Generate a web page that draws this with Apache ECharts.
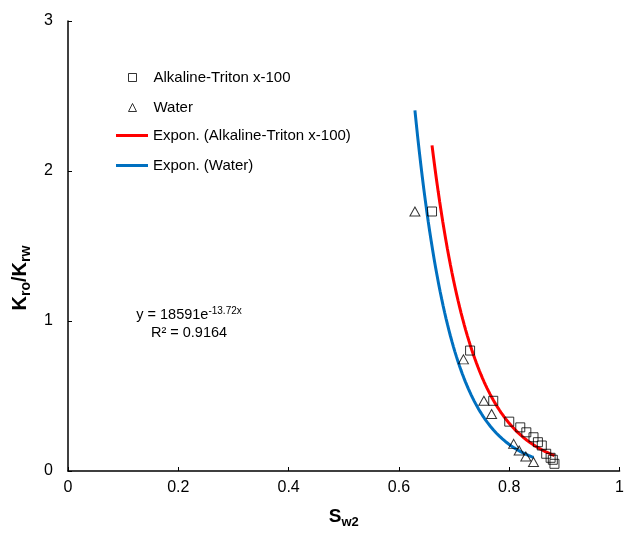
<!DOCTYPE html>
<html>
<head>
<meta charset="utf-8">
<script src="https://cdn.jsdelivr.net/npm/echarts@6/dist/echarts.min.js"></script>
<style>html,body{margin:0;padding:0;background:#fff;overflow:hidden}#c{width:627px;height:534px}</style>
</head>
<body>
<div id="c"></div>
<script>
// ---- data ----
const swAlkaline = [0.660, 0.729, 0.771, 0.800, 0.820, 0.831, 0.844, 0.852, 0.859, 0.867, 0.875, 0.879, 0.882];
const krAlkaline = [1.73, 0.803, 0.468, 0.329, 0.291, 0.258, 0.225, 0.192, 0.170, 0.115, 0.088, 0.075, 0.048];
const swWater = [0.629, 0.717, 0.754, 0.768, 0.808, 0.818, 0.830, 0.844];
const krWater = [1.73, 0.744, 0.468, 0.380, 0.181, 0.137, 0.097, 0.060];
// printed trendline equation (Alkaline-Triton x-100)
const alkalineTrendA = 18591;
const alkalineTrendB = -13.72;
const xTicks = [0, 0.2, 0.4, 0.6, 0.8, 1];
const yTicks = [0, 1, 2, 3];
const seriesNames = ['Alkaline-Triton x-100', 'Water', 'Expon. (Alkaline-Triton x-100)', 'Expon. (Water)'];

function expFit(xs, ys) {
  const n = xs.length;
  const ly = ys.map(Math.log);
  const mx = xs.reduce((s, v) => s + v, 0) / n;
  const my = ly.reduce((s, v) => s + v, 0) / n;
  let sxy = 0, sxx = 0;
  for (let i = 0; i < n; i++) { sxy += (xs[i] - mx) * (ly[i] - my); sxx += (xs[i] - mx) * (xs[i] - mx); }
  const b = sxy / sxx;
  return { a: Math.exp(my - b * mx), b: b };
}
function trendPoints(xs, a, b) {
  const lo = Math.min.apply(null, xs), hi = Math.max.apply(null, xs);
  const pts = [];
  const N = 80;
  for (let i = 0; i <= N; i++) { const x = lo + (hi - lo) * i / N; pts.push([x, a * Math.exp(b * x)]); }
  return pts;
}
const waterFit = expFit(swWater, krWater);
const pair = (xs, ys) => xs.map((x, i) => [x, ys[i]]);

const FONT = 'Liberation Sans';
const legendText = { fontSize: 15, color: '#000', fontFamily: FONT, lineHeight: 14 };
const chart = echarts.init(document.getElementById('c'), null, { renderer: 'canvas', width: 627, height: 534 });
chart.setOption({
  animation: false,
  backgroundColor: '#fff',
  textStyle: { fontFamily: FONT },
  grid: { left: 68, right: 3, top: 21, bottom: 60 },
  legend: [{
    orient: 'vertical', left: 128, top: 70, padding: 0,
    itemWidth: 8, itemHeight: 8, itemGap: 15,
    itemStyle: { borderWidth: 1 },
    data: [{ name: seriesNames[0], icon: 'rect' }, { name: seriesNames[1], icon: 'triangle' }],
    textStyle: Object.assign({ padding: [0, 0, 0, 12] }, legendText)
  }, {
    orient: 'vertical', left: 116, top: 128, padding: 0,
    itemWidth: 32, itemHeight: 3, itemGap: 15,
    data: [{ name: seriesNames[2], icon: 'rect' }, { name: seriesNames[3], icon: 'rect' }],
    textStyle: legendText
  }],
  xAxis: {
    type: 'value', min: xTicks[0], max: xTicks[xTicks.length - 1], interval: 0.2,
    name: '{b|S}{s|w2}', nameLocation: 'middle', nameGap: 34,
    nameTextStyle: { rich: {
      b: { fontSize: 19, fontWeight: 'bold', color: '#000', fontFamily: FONT, lineHeight: 24, verticalAlign: 'middle' },
      s: { fontSize: 13, fontWeight: 'bold', color: '#000', fontFamily: FONT, lineHeight: 13, verticalAlign: 'bottom' }
    } },
    axisLine: { lineStyle: { color: '#000', width: 1.5 } },
    axisTick: { inside: true, length: 4, lineStyle: { color: '#000' } },
    axisLabel: { fontSize: 16, color: '#000', margin: 9, fontFamily: FONT, formatter: v => String(+v.toFixed(1)) },
    splitLine: { show: false }
  },
  yAxis: {
    type: 'value', min: yTicks[0], max: yTicks[yTicks.length - 1], interval: 1,
    name: '{b|K}{s|ro}{b|/K}{s|rw}', nameLocation: 'middle', nameGap: 35, nameRotate: 90,
    nameTextStyle: { padding: [0, 64, 0, 0], rich: {
      b: { fontSize: 20, fontWeight: 'bold', color: '#000', fontFamily: FONT, lineHeight: 25, verticalAlign: 'middle' },
      s: { fontSize: 14, fontWeight: 'bold', color: '#000', fontFamily: FONT, lineHeight: 14, verticalAlign: 'bottom' }
    } },
    axisLine: { show: true, lineStyle: { color: '#000', width: 1.5 } },
    axisTick: { show: true, inside: true, length: 4, lineStyle: { color: '#000' } },
    axisLabel: { fontSize: 16, color: '#000', margin: 15, fontFamily: FONT },
    splitLine: { show: false }
  },
  graphic: [{
    type: 'text', x: 189, y: 306, z: 10,
    style: {
      text: '{n|y = 18591e}{sup|-13.72x}\n{n|R² = 0.9164}',
      align: 'center', verticalAlign: 'top',
      rich: {
        n: { fontSize: 14.5, fill: '#000', fontFamily: FONT, lineHeight: 18 },
        sup: { fontSize: 10, fill: '#000', fontFamily: FONT, verticalAlign: 'top', lineHeight: 18, padding: [0, 0, 6, 0] }
      }
    }
  }],
  series: [
    { name: seriesNames[0], type: 'scatter', symbol: 'rect', symbolSize: 9, z: 3,
      itemStyle: { color: 'rgba(255,255,255,0)', borderColor: '#000', borderWidth: 1 },
      data: pair(swAlkaline, krAlkaline) },
    { name: seriesNames[1], type: 'scatter', symbol: 'triangle', symbolSize: [10, 9], z: 3,
      itemStyle: { color: 'rgba(255,255,255,0)', borderColor: '#000', borderWidth: 1 },
      data: pair(swWater, krWater) },
    { name: seriesNames[2], type: 'line', symbol: 'none', z: 2,
      lineStyle: { color: '#FF0000', width: 3 }, itemStyle: { color: '#FF0000' },
      data: trendPoints(swAlkaline, alkalineTrendA, alkalineTrendB) },
    { name: seriesNames[3], type: 'line', symbol: 'none', z: 2,
      lineStyle: { color: '#0070C0', width: 3 }, itemStyle: { color: '#0070C0' },
      data: trendPoints(swWater, waterFit.a, waterFit.b) }
  ]
});
</script>
</body>
</html>
